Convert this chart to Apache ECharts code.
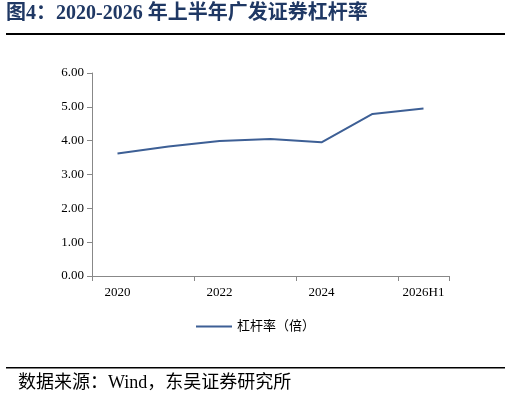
<!DOCTYPE html><html><head><meta charset="utf-8"><script src="https://cdn.jsdelivr.net/npm/echarts@6/dist/echarts.min.js"></script>
<style>body{margin:0;background:#fff}#c{width:511px;height:402px}</style></head><body><div id="c"></div><script>
const categories=['2020','2021','2022','2023','2024','2025','2026H1'];
const leverage=[3.62,3.83,3.99,4.05,3.95,4.79,4.95];
const seriesName='杠杆率（倍）';
const ch=echarts.init(document.getElementById('c'));
const serif='"Times New Roman","Liberation Serif","Noto Sans CJK SC",serif';
ch.setOption({
animation:false,
graphic:[
{type:'text',left:6,top:4,style:{text:'图4：2020-2026 年上半年广发证券杠杆率',font:'bold 20px "Liberation Serif","Noto Sans CJK SC",serif',fill:'#1f3864'}},
{type:'rect',shape:{x:6,y:33,width:499,height:2},style:{fill:'#000'}},
{type:'rect',shape:{x:6,y:367,width:499,height:1.5},style:{fill:'#000'}},
{type:'text',left:18,top:374,style:{text:'数据来源：Wind，东吴证券研究所',font:'18px "Liberation Serif","Noto Sans CJK SC",serif',fill:'#000'}}
],
grid:{left:92,right:62,top:73,bottom:126},
legend:{bottom:64,left:'center',itemWidth:36,itemHeight:2,icon:'rect',textStyle:{fontFamily:serif,fontSize:13,color:'#000'}},
xAxis:{type:'category',data:categories,axisLine:{lineStyle:{color:'#888'}},axisTick:{show:true,lineStyle:{color:'#888'}},axisLabel:{fontFamily:serif,fontSize:13,color:'#000',margin:10}},
yAxis:{type:'value',min:0,max:6,interval:1,splitLine:{show:false},axisLine:{show:true,lineStyle:{color:'#888'}},axisTick:{show:true,lineStyle:{color:'#888'}},axisLabel:{fontFamily:serif,fontSize:13,color:'#000',formatter:v=>v.toFixed(2)}},
series:[{name:seriesName,type:'line',data:leverage,symbol:'none',lineStyle:{color:'#3d5f95',width:2},itemStyle:{color:'#3d5f95'}}]
});
</script></body></html>
